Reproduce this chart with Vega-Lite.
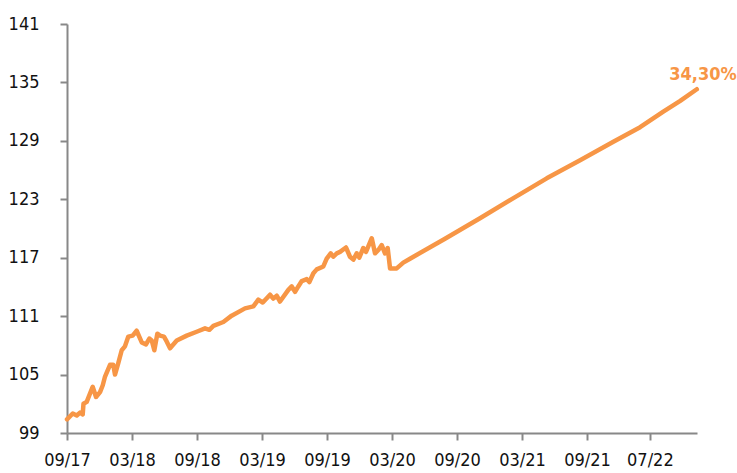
{
  "$schema": "https://vega.github.io/schema/vega-lite/v6.json",
  "width": 630,
  "height": 409,
  "autosize": {"type": "none"},
  "padding": {"left": 67, "top": 24, "right": 40, "bottom": 40},
  "background": "white",
  "config": {
    "view": {"stroke": null},
    "font": "DejaVu Sans Condensed, Liberation Sans Narrow, Liberation Sans, sans-serif",
    "axis": {
      "domainColor": "#888888",
      "domainWidth": 2,
      "tickColor": "#888888",
      "tickWidth": 2,
      "tickSize": 7,
      "labelColor": "#111111",
      "labelFont": "DejaVu Sans Condensed, Liberation Sans Narrow, Liberation Sans, sans-serif",
      "labelFontSize": 18,
      "grid": false,
      "title": null
    }
  },
  "data": {
    "values": [
      {"m": 0.0, "v": 100.4},
      {"m": 0.53, "v": 101.0},
      {"m": 0.9, "v": 100.8},
      {"m": 1.2, "v": 101.1},
      {"m": 1.45, "v": 100.9},
      {"m": 1.52, "v": 102.0},
      {"m": 1.82, "v": 102.2},
      {"m": 2.37, "v": 103.75},
      {"m": 2.68, "v": 102.7},
      {"m": 3.05, "v": 103.2},
      {"m": 3.3, "v": 103.9},
      {"m": 3.51, "v": 104.8},
      {"m": 3.97, "v": 106.0},
      {"m": 4.27, "v": 106.0},
      {"m": 4.43, "v": 105.0},
      {"m": 4.74, "v": 106.2},
      {"m": 5.05, "v": 107.5},
      {"m": 5.35, "v": 107.9},
      {"m": 5.66, "v": 108.9},
      {"m": 6.06, "v": 109.0},
      {"m": 6.43, "v": 109.5},
      {"m": 6.9, "v": 108.3},
      {"m": 7.29, "v": 108.1},
      {"m": 7.6, "v": 108.7},
      {"m": 7.82, "v": 108.5},
      {"m": 8.06, "v": 107.5},
      {"m": 8.34, "v": 109.2},
      {"m": 8.58, "v": 109.0},
      {"m": 8.95, "v": 108.9},
      {"m": 9.2, "v": 108.4},
      {"m": 9.51, "v": 107.7},
      {"m": 10.13, "v": 108.5},
      {"m": 11.05, "v": 109.0},
      {"m": 11.97, "v": 109.4},
      {"m": 12.74, "v": 109.75},
      {"m": 13.14, "v": 109.6},
      {"m": 13.51, "v": 110.0},
      {"m": 14.43, "v": 110.4},
      {"m": 15.2, "v": 111.05},
      {"m": 16.43, "v": 111.8},
      {"m": 17.2, "v": 112.0},
      {"m": 17.66, "v": 112.7},
      {"m": 18.07, "v": 112.4},
      {"m": 18.74, "v": 113.2},
      {"m": 19.04, "v": 112.8},
      {"m": 19.36, "v": 113.1},
      {"m": 19.66, "v": 112.5},
      {"m": 20.43, "v": 113.7},
      {"m": 20.74, "v": 114.05},
      {"m": 21.05, "v": 113.5},
      {"m": 21.35, "v": 114.05},
      {"m": 21.67, "v": 114.6},
      {"m": 22.13, "v": 114.8},
      {"m": 22.37, "v": 114.5},
      {"m": 22.74, "v": 115.4},
      {"m": 23.05, "v": 115.8},
      {"m": 23.66, "v": 116.1},
      {"m": 23.97, "v": 116.9},
      {"m": 24.34, "v": 117.45},
      {"m": 24.58, "v": 117.1},
      {"m": 24.9, "v": 117.45},
      {"m": 25.2, "v": 117.6},
      {"m": 25.75, "v": 118.05},
      {"m": 26.12, "v": 117.1},
      {"m": 26.43, "v": 116.8},
      {"m": 26.74, "v": 117.45},
      {"m": 26.98, "v": 117.0},
      {"m": 27.35, "v": 118.0},
      {"m": 27.6, "v": 117.6},
      {"m": 28.13, "v": 119.0},
      {"m": 28.43, "v": 117.45},
      {"m": 28.74, "v": 117.8},
      {"m": 29.05, "v": 118.3},
      {"m": 29.35, "v": 117.45},
      {"m": 29.6, "v": 118.0},
      {"m": 29.82, "v": 115.9},
      {"m": 30.43, "v": 115.9},
      {"m": 31.04, "v": 116.5},
      {"m": 31.66, "v": 116.9},
      {"m": 34.89, "v": 118.95},
      {"m": 38.12, "v": 121.05},
      {"m": 41.17, "v": 123.1},
      {"m": 44.28, "v": 125.15},
      {"m": 47.36, "v": 127.0},
      {"m": 50.43, "v": 128.9},
      {"m": 52.9, "v": 130.4},
      {"m": 55.04, "v": 132.0},
      {"m": 56.6, "v": 133.1},
      {"m": 58.13, "v": 134.3, "label": "34,30%"}
    ]
  },
  "layer": [
    {
      "mark": {"type": "line", "color": "#F79646", "strokeWidth": 4.5, "strokeCap": "round", "strokeJoin": "round"},
      "encoding": {
        "x": {
          "field": "m",
          "type": "quantitative",
          "scale": {"domain": [0, 58.15], "nice": false, "zero": false},
          "axis": {
            "values": [0, 6, 12, 18, 24, 30, 36, 42, 48, 53.8],
            "labelExpr": "['09/17','03/18','09/18','03/19','09/19','03/20','09/20','03/21','09/21','07/22'][round(datum.value / 6)]",
            "labelPadding": 11,
            "labelFlush": false,
            "labelOverlap": false
          }
        },
        "y": {
          "field": "v",
          "type": "quantitative",
          "scale": {"domain": [99, 141], "nice": false, "zero": false},
          "axis": {
            "values": [99, 105, 111, 117, 123, 129, 135, 141],
            "labelPadding": 21
          }
        }
      }
    },
    {
      "transform": [{"filter": "datum.label != null"}],
      "mark": {"type": "text", "color": "#F79646", "fontWeight": "bold", "fontSize": 18, "font": "DejaVu Sans Condensed, Liberation Sans Narrow, Liberation Sans, sans-serif", "align": "right", "baseline": "alphabetic", "dx": 40, "dy": -9},
      "encoding": {
        "x": {"field": "m", "type": "quantitative"},
        "y": {"field": "v", "type": "quantitative"},
        "text": {"field": "label"}
      }
    }
  ]
}
